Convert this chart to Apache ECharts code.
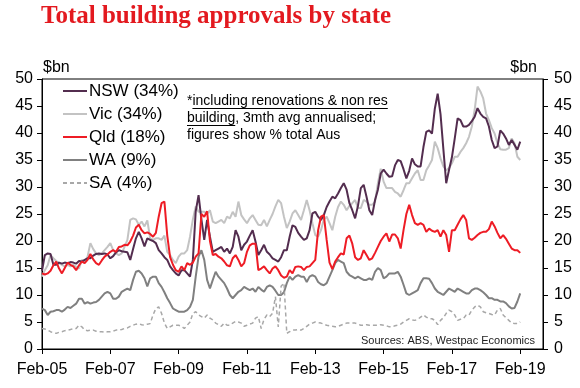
<!DOCTYPE html>
<html>
<head>
<meta charset="utf-8">
<script src="https://cdn.jsdelivr.net/npm/echarts@6/dist/echarts.min.js"></script>
<style>
html,body{margin:0;padding:0;background:#fff;}
#chart{width:580px;height:388px;}
</style>
</head>
<body>
<div id="chart"></div>
<script>
// Month categories from Feb-05 (axis runs a few months beyond the last data point)
const firstYear = 2005, firstMonth = 1, axisMonths = 177;
const monthNames = ['Jan','Feb','Mar','Apr','May','Jun','Jul','Aug','Sep','Oct','Nov','Dec'];
const categories = [];
for (let i = 0; i < axisMonths; i++) {
  const mi = (firstMonth + i) % 12;
  const yr = firstYear + Math.floor((firstMonth + i) / 12);
  categories.push(monthNames[mi] + '-' + String(yr % 100).padStart(2, '0'));
}
const tickLabels = ['Feb-05','Feb-07','Feb-09','Feb-11','Feb-13','Feb-15','Feb-17','Feb-19'];
const yTicks = [0,5,10,15,20,25,30,35,40,45,50];

const nsw = [14.5,17.4,17.7,17.6,15.6,15.6,16.0,15.8,16.0,15.9,16.1,16.0,
15.8,16.3,16.2,16.5,16.8,16.8,17.3,17.6,17.7,17.6,17.7,17.5,
16.8,17.2,17.9,18.3,18.1,18.0,17.9,16.5,18.5,20.5,21.7,20.5,
19.0,20.5,20.2,20.0,19.6,18.3,17.7,17.0,16.5,15.3,14.6,14.0,
13.6,14.6,14.6,14.0,13.4,16.5,25.5,28.5,24.0,20.2,23.9,20.8,
18.0,18.3,18.6,18.9,18.0,18.6,17.7,18.9,22.0,20.8,18.3,19.3,
19.9,21.0,22.0,19.9,17.4,18.3,19.3,18.0,17.5,16.8,16.5,16.2,
17.0,18.3,18.3,20.8,22.9,22.6,21.5,20.8,20.2,20.5,22.0,25.1,
25.4,24.5,23.9,24.8,26.3,27.3,28.2,27.9,28.8,29.8,30.7,29.5,
27.0,25.7,24.2,26.5,29.8,30.4,28.2,25.7,24.8,27.6,29.5,32.5,
33.2,32.5,31.9,32.0,34.0,35.0,34.8,33.3,31.6,33.0,35.3,34.2,
33.8,33.8,37.4,40.2,40.5,39.9,44.5,47.3,43.5,37.0,30.7,33.2,
35.5,39.0,42.7,42.4,41.2,41.2,41.5,42.2,43.0,44.6,43.6,43.0,
42.7,41.2,38.7,37.2,37.5,40.5,39.9,39.0,37.8,38.7,37.8,36.9,
38.4];

const vic = [13.4,14.6,15.5,17.4,16.8,16.3,15.9,15.6,15.3,15.6,15.3,15.6,
15.2,14.9,16.5,16.2,17.1,19.6,18.5,17.7,17.4,17.7,18.3,18.9,
19.6,18.3,17.7,17.4,17.7,18.9,20.2,23.9,24.2,24.0,23.0,23.6,
22.7,23.8,20.5,20.2,20.5,20.5,20.2,21.0,18.0,17.4,16.5,15.9,
17.1,17.7,17.7,18.3,20.8,24.0,26.4,25.4,25.4,25.4,25.0,25.7,
23.6,23.3,23.6,23.9,23.3,24.5,24.2,25.4,24.5,27.3,24.8,24.0,
23.3,24.2,24.8,23.9,23.0,22.9,23.9,22.7,23.9,25.0,26.4,27.6,
27.0,24.5,22.4,23.6,25.1,25.7,24.8,23.9,25.7,27.6,25.7,23.3,
21.1,20.8,22.0,24.0,24.5,23.3,22.0,24.5,26.3,27.3,26.7,25.7,
26.5,27.0,27.6,26.1,26.1,27.6,27.3,26.7,26.7,27.3,30.7,33.4,
31.0,29.8,29.8,29.8,29.1,28.8,28.2,29.4,30.7,30.7,31.6,32.5,
33.1,31.3,31.3,33.1,34.0,35.0,38.4,37.2,35.3,33.8,33.1,33.5,
34.4,35.6,35.6,36.5,37.2,38.1,39.3,41.2,44.3,48.6,47.7,46.4,
43.6,42.4,40.9,39.9,38.1,37.0,36.9,36.9,37.2,39.0,38.1,35.6,
35.0];

const qld = [14.0,13.8,14.0,14.5,15.5,16.2,14.9,14.0,15.0,16.0,15.6,15.3,
14.6,15.5,16.2,15.9,16.5,17.6,16.6,15.9,15.6,16.4,17.1,17.5,
18.0,18.3,18.0,18.9,19.0,19.3,19.2,19.9,21.0,22.5,23.0,22.0,
21.4,21.6,21.3,20.8,21.5,24.5,27.0,27.3,21.0,17.0,15.6,14.6,
14.3,15.3,14.6,15.9,15.6,16.0,17.1,17.7,25.0,24.5,25.5,20.0,
17.4,17.6,17.1,16.8,16.2,15.5,15.3,16.8,17.4,16.5,15.3,15.9,
18.0,19.2,19.5,19.5,14.6,14.9,15.3,14.6,14.0,14.9,15.3,14.6,
13.6,13.2,13.4,14.6,14.0,15.2,15.3,15.2,14.6,15.2,15.3,15.9,
16.5,22.0,24.5,24.8,20.2,16.0,14.8,16.2,17.0,17.7,17.5,20.5,
21.0,19.5,17.0,16.5,16.8,18.3,17.4,16.5,16.8,17.8,18.9,20.0,
20.8,21.4,19.9,21.2,21.2,20.5,18.6,22.0,25.0,26.7,24.8,23.3,
23.0,23.3,23.0,21.7,22.3,21.9,21.7,22.0,20.8,22.0,21.1,18.0,
22.0,22.0,23.0,24.0,24.8,23.9,20.5,20.2,20.6,21.1,21.5,21.7,
21.7,22.2,23.6,22.7,21.5,20.5,21.1,20.4,19.5,18.6,18.3,18.3,
17.8];

const wa = [7.5,7.2,6.3,6.9,7.0,7.2,7.2,6.9,7.3,7.8,7.6,8.0,
8.4,9.3,9.3,8.4,8.7,8.4,8.6,8.7,9.1,9.7,10.3,10.6,
10.3,9.3,9.3,9.7,10.6,10.9,11.2,10.9,12.8,14.3,14.5,14.0,
13.1,11.6,13.1,13.4,13.4,12.2,11.5,10.5,9.4,8.5,7.5,7.2,
6.9,6.9,6.9,7.2,7.8,9.1,13.4,17.1,18.3,16.5,12.8,11.2,
12.8,14.3,13.4,12.8,12.2,11.2,10.0,9.4,10.0,10.6,10.9,11.5,
11.2,10.9,11.2,10.6,11.5,11.0,10.6,11.5,11.8,11.5,10.8,10.0,
10.0,10.5,12.2,13.4,12.8,13.4,13.7,13.4,13.4,12.4,13.4,13.7,
13.4,12.4,12.0,11.8,12.2,13.4,14.6,15.9,16.5,16.2,15.9,14.3,
13.7,13.4,13.1,13.4,13.1,12.8,12.8,13.1,12.8,14.3,15.0,14.6,
13.1,13.4,14.0,14.0,14.0,14.3,13.4,11.9,10.3,10.0,10.3,10.6,
10.9,12.2,13.1,13.1,13.0,12.2,11.2,10.6,10.3,10.0,10.6,11.2,
10.9,10.6,11.2,10.9,10.6,10.3,10.3,10.9,11.2,11.2,10.9,10.5,
10.0,9.4,9.4,9.1,9.1,8.8,8.8,8.5,7.9,7.5,7.6,8.8,
10.3];

const sa = [3.8,3.7,3.5,3.2,3.0,2.9,3.1,3.2,3.4,3.5,3.6,3.8,
3.8,4.4,4.1,3.5,3.4,3.5,3.5,3.3,3.2,3.2,3.1,3.2,
3.2,3.3,3.5,3.5,3.6,3.8,3.9,4.2,4.4,4.6,4.7,4.5,
4.4,4.6,4.7,6.3,7.5,7.8,6.6,4.8,3.8,4.1,4.4,4.4,
4.4,4.2,3.8,4.4,5.0,6.6,6.9,6.3,6.0,5.7,6.3,5.7,
5.4,4.8,4.5,4.2,4.8,4.4,4.4,4.8,5.1,5.0,4.8,4.2,
4.4,4.6,4.8,5.7,6.0,3.8,5.5,6.3,6.0,6.6,9.7,4.1,
11.6,12.2,2.9,3.2,3.5,3.5,3.6,3.5,3.8,4.2,4.6,4.8,
5.0,4.9,4.8,4.6,4.4,4.3,4.2,4.1,4.2,4.4,4.6,4.8,
4.8,4.8,4.8,4.6,4.4,4.4,4.5,4.4,4.4,4.4,4.4,4.5,
4.4,4.3,4.1,4.1,4.3,4.4,4.6,5.0,5.3,5.6,5.4,5.3,
5.5,5.9,6.3,5.9,5.6,5.6,5.3,4.5,5.3,5.8,6.6,7.2,
6.9,6.3,5.3,5.5,5.6,6.3,6.3,7.2,7.8,8.1,7.8,6.9,
6.7,6.6,6.4,6.3,7.2,7.5,6.3,5.8,5.3,4.8,4.7,4.7,
5.0];

const seriesNames = ['NSW (34%)','Vic (34%)','Qld (18%)','WA (9%)','SA (4%)'];

const FONT = '"Liberation Sans", Arial, sans-serif';
const chart = echarts.init(document.getElementById('chart'), null, {renderer:'canvas'});

// measure text widths for the underline annotation
const mctx = document.createElement('canvas').getContext('2d');
function tw(s, size) { mctx.font = size + 'px "Liberation Sans"'; return mctx.measureText(s).width; }
const noteX = 187, noteSize = 14;
const starW = tw('*', noteSize);
const line1U = tw('including renovations & non res', noteSize);
const line2U = tw('building', noteSize);

function yAxisDef(pos, margin) {
  return {
    type:'value', position:pos, min:0, max:50, interval:5,
    axisLine:{show:true, lineStyle:{color:'#000', width:1}},
    axisTick:{show:true, length:5, lineStyle:{color:'#000'}},
    axisLabel:{fontSize:16, fontFamily:FONT, color:'#000', margin:margin},
    splitLine:{show:false}
  };
}

function lineSeries(name, data, color, width, type, z) {
  return {
    name:name, type:'line', data:data, symbol:'none', showSymbol:false, smooth:false, z:z,
    lineStyle:{color:color, width:width, type:type},
    itemStyle:{color:color, opacity:0}, animation:false
  };
}

const option = {
  animation:false,
  backgroundColor:'#fff',
  grid:{left:42, right:37, top:79, bottom:39, show:true, borderColor:'#000', borderWidth:1, backgroundColor:'transparent'},
  xAxis:{
    type:'category', data:categories, boundaryGap:false,
    axisLine:{show:true, lineStyle:{color:'#000', width:1}},
    axisTick:{show:true, length:5, interval:(i)=>i % 24 === 0, lineStyle:{color:'#000'}},
    axisLabel:{fontSize:16, fontFamily:FONT, color:'#000', margin:13,
      interval:(i, v)=>i % 24 === 0 && tickLabels.indexOf(v) >= 0},
    splitLine:{show:false}
  },
  yAxis:[yAxisDef('left', 9), yAxisDef('right', 11)],
  legend:{
    orient:'vertical', left:57, top:77, itemWidth:24, itemHeight:12, itemGap:5,
    data:seriesNames,
    itemStyle:{opacity:0},
    textStyle:{fontSize:17, fontFamily:FONT, color:'#000', lineHeight:18, padding:[0,0,0,-3]},
    selectedMode:false
  },
  series:[
    lineSeries(seriesNames[1], vic, '#c3c3c3', 2, 'solid', 2),
    lineSeries(seriesNames[0], nsw, '#532d4f', 2, 'solid', 3),
    lineSeries(seriesNames[3], wa, '#808080', 2, 'solid', 2),
    lineSeries(seriesNames[4], sa, '#a8a8a8', 1.5, [4,3], 2),
    lineSeries(seriesNames[2], qld, '#ee1c25', 2, 'solid', 4)
  ],
  graphic:[
    {type:'text', left:41, top:4, style:{text:'Total building approvals by state', fill:'#e3191f',
      font:'bold 25px "Liberation Serif", "Times New Roman", serif'}},
    {type:'text', left:43, top:60, style:{text:'$bn', fill:'#000', font:'16px ' + FONT}},
    {type:'text', right:43, top:60, style:{text:'$bn', fill:'#000', font:'16px ' + FONT}},
    {type:'text', x:noteX, y:94, style:{text:'*including renovations & non res', fill:'#000', font:noteSize + 'px ' + FONT}},
    {type:'text', x:noteX, y:111, style:{text:'building, 3mth avg annualised;', fill:'#000', font:noteSize + 'px ' + FONT}},
    {type:'text', x:noteX, y:128, style:{text:'figures show % total Aus', fill:'#000', font:noteSize + 'px ' + FONT}},
    {type:'line', shape:{x1:noteX + starW, y1:108.5, x2:noteX + starW + line1U, y2:108.5}, style:{stroke:'#000', lineWidth:1}},
    {type:'line', shape:{x1:noteX, y1:125.5, x2:noteX + line2U, y2:125.5}, style:{stroke:'#000', lineWidth:1}},
    {type:'text', right:45, top:335, style:{text:'Sources: ABS, Westpac Economics', fill:'#222', font:'11px ' + FONT}}
  ]
};
chart.setOption(option);
</script>
</body>
</html>
